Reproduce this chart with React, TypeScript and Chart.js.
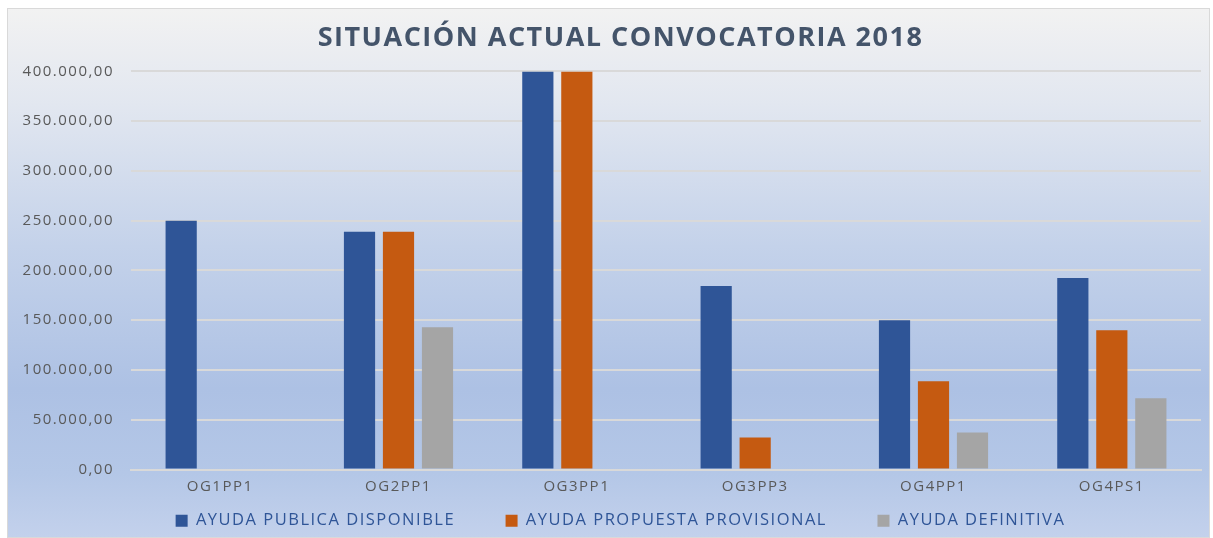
import React, { useEffect, useRef } from "react";
import { Chart, registerables } from "chart.js";

Chart.register(...registerables);

const categories = ["OG1PP1", "OG2PP1", "OG3PP1", "OG3PP3", "OG4PP1", "OG4PS1"];
const ayudaPublicaDisponible = [250000, 238800, 400000, 184400, 150000, 192400];
const ayudaPropuestaProvisional = [null, 238800, 400000, 32200, 88700, 140000];
const ayudaDefinitiva = [null, 143000, null, null, 37300, 71500];
const seriesNames = ["AYUDA PUBLICA DISPONIBLE", "AYUDA PROPUESTA PROVISIONAL", "AYUDA DEFINITIVA"];
const seriesColors = ["#2f5597", "#c55a11", "#a5a5a5"];
const titleText = "SITUACIÓN ACTUAL CONVOCATORIA 2018";

function fmt(v: number): string {
  const n = Math.round(v);
  const s = String(Math.abs(n)).replace(/\B(?=(\d{3})+(?!\d))/g, ".");
  return (n < 0 ? "-" : "") + s + ",00";
}

const spacingPlugin = {
  id: "letterSpacing",
  beforeLayout(chart: any) { (chart.ctx as any).letterSpacing = "1.5px"; },
  beforeDraw(chart: any) { (chart.ctx as any).letterSpacing = "1.5px"; },
};

export default function App() {
  const ref = useRef<HTMLCanvasElement | null>(null);
  useEffect(() => {
    if (!ref.current) return;
    const font = "'Open Sans', sans-serif";
    const chart = new Chart(ref.current, {
      type: "bar",
      plugins: [spacingPlugin],
      data: {
        labels: categories,
        datasets: [ayudaPublicaDisponible, ayudaPropuestaProvisional, ayudaDefinitiva].map((d, i) => ({
          label: seriesNames[i],
          data: d as any,
          backgroundColor: seriesColors[i],
          borderWidth: 0,
          categoryPercentage: 0.656,
          barPercentage: 0.8,
          xAxisID: "x",
          yAxisID: "y",
        })),
      },
      options: {
        animation: false,
        responsive: false,
        maintainAspectRatio: false,
        layout: { padding: { left: 0, right: -24, top: 0, bottom: -2 } },
        plugins: {
          title: {
            display: true,
            text: titleText,
            color: "#44546a",
            font: { family: font, size: 27, weight: "bold" },
            padding: { top: 13, bottom: 17 },
          },
          legend: {
            position: "bottom",
            labels: {
              color: "#2f5597",
              font: { family: font, size: 16.5 },
              boxWidth: 12,
              boxHeight: 12,
              padding: 10,
              generateLabels: (c: any) => {
                const items = Chart.defaults.plugins.legend.labels.generateLabels(c);
                return items.map((it: any, i: number) => ({
                  ...it,
                  text: i < items.length - 1 ? it.text + "       " : it.text,
                }));
              },
            },
          },
          tooltip: { enabled: false },
        },
        scales: {
          x: {
            afterFit: (s: any) => { s.height = 33; },
            grid: { display: false, drawTicks: false },
            border: { display: true, color: "#d9d9d9", width: 2 },
            ticks: { color: "#595959", font: { family: font, size: 15 }, padding: 8 },
          },
          y: {
            min: 0,
            max: 400000,
            afterFit: (s: any) => { s.width = 123; },
            grid: { color: "#d9d9d9", lineWidth: 2, drawTicks: false },
            border: { display: false },
            ticks: {
              stepSize: 50000,
              color: "#595959",
              font: { family: font, size: 15 },
              padding: 17,
              callback: (v: any) => fmt(Number(v)),
            },
          },
          spacer: {
            type: "linear",
            position: "right",
            afterFit: (s: any) => { s.width = 32; },
            grid: { display: false, drawTicks: false },
            border: { display: false },
            ticks: { display: false },
          },
        },
      },
    });
    return () => chart.destroy();
  }, []);
  return (
    <div
      style={{
        position: "absolute",
        left: 7,
        top: 8,
        width: 1201,
        height: 528,
        border: "1px solid #d9d9d9",
        background:
          "linear-gradient(180deg, #f2f2f2 0%, #e2e7f0 18%, #c4d2ea 45%, #adc1e4 72%, #b4c7e7 88%, #c3d1ec 100%)",
      }}
    >
      <canvas ref={ref} width={1201} height={528} style={{ display: "block" }} />
    </div>
  );
}
